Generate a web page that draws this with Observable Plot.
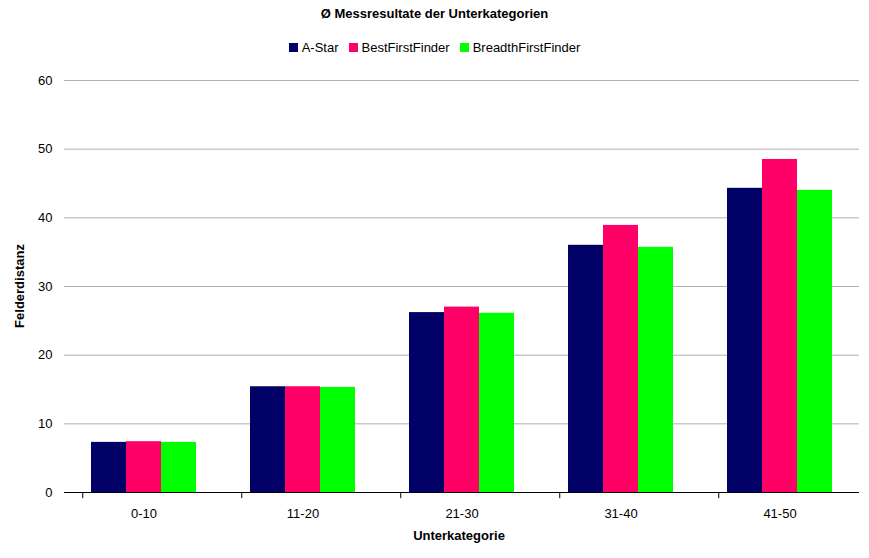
<!DOCTYPE html>
<html><head><meta charset="utf-8">
<script src="https://cdn.jsdelivr.net/npm/d3@7"></script>
<script src="https://cdn.jsdelivr.net/npm/@observablehq/plot@0.6"></script>
<style>
body{margin:0;background:#fff;font-family:"Liberation Sans",sans-serif;}
#title{position:absolute;top:6px;left:0;width:869px;text-align:center;font-weight:bold;font-size:13px;}
#legend{position:absolute;top:40px;left:0;width:869px;text-align:center;font-size:13px;}
#legend span{display:inline-block;margin:0 5px;}
#legend i{display:inline-block;width:9px;height:9px;margin-right:4px;}
#chart{position:absolute;top:65px;left:0;}
</style></head><body>
<div id="title">Ø Messresultate der Unterkategorien</div>
<div id="legend"></div>
<div id="chart"></div>
<script>
const categories = ['0-10','11-20','21-30','31-40','41-50']
const series = ['A-Star','BestFirstFinder','BreadthFirstFinder']
const colors = ['#000066','#ff0066','#00ff00']
const aStar = [7.3, 15.4, 26.2, 36.0, 44.3]
const bestFirst = [7.4, 15.4, 27.0, 38.9, 48.5]
const breadthFirst = [7.3, 15.3, 26.1, 35.7, 44.0]

const values = [aStar, bestFirst, breadthFirst]
const data = []
categories.forEach((c, i) => series.forEach((s, j) => data.push({cat: c, s, v: values[j][i]})))

d3.select('#legend').html(series.map((s, j) =>
  `<span><i style="background:${colors[j]}"></i>${s}</span>`).join(''))

let chart = Plot.plot({
  width: 869,
  height: 490,
  marginLeft: 62,
  marginRight: 9,
  marginTop: 15,
  marginBottom: 63,
  style: {fontFamily: '"Liberation Sans", sans-serif', fontSize: 13, color: '#000'},
  fx: {domain: categories, padding: 0, label: null},
  x: {domain: series, paddingOuter: 0.75, paddingInner: 0, axis: null},
  y: {domain: [0, 60], ticks: d3.range(0, 61, 10), label: null},
  color: {domain: series, range: colors},
  marks: [
    Plot.gridY(d3.range(10, 61, 10), {stroke: '#b0b0b0', strokeOpacity: 1}),
    Plot.axisY(d3.range(0, 61, 10), {tickSize: 0, tickPadding: 12, fontSize: 13}),
    Plot.barY(data, {fx: 'cat', x: 's', y: 'v', fill: 's', inset: 0}),
    Plot.ruleY([0], {stroke: '#000'}),
    Plot.axisFx({anchor: 'bottom', tickSize: 0, tickPadding: 16, fontSize: 13, label: null}),
    Plot.ruleX(categories, {fx: d => d, x: () => series[0], dx: -35 * 0.75, y1: 0, y2: -0.9, stroke: '#000'}),
    Plot.ruleX(['41-50'], {fx: d => d, x: () => series[2], dx: 35 * 1.75, y1: 0, y2: -0.9, stroke: '#000'})
  ]
})
d3.select('#chart').append(() => chart)
const svg = d3.select(chart)
svg.append('text').attr('x', 459).attr('y', 475).attr('text-anchor', 'middle')
  .attr('font-weight', 'bold').attr('font-size', 13).text('Unterkategorie')
svg.append('text').attr('transform', 'translate(24,221) rotate(-90)').attr('text-anchor', 'middle')
  .attr('font-weight', 'bold').attr('font-size', 13).text('Felderdistanz')
</script>
</body></html>
